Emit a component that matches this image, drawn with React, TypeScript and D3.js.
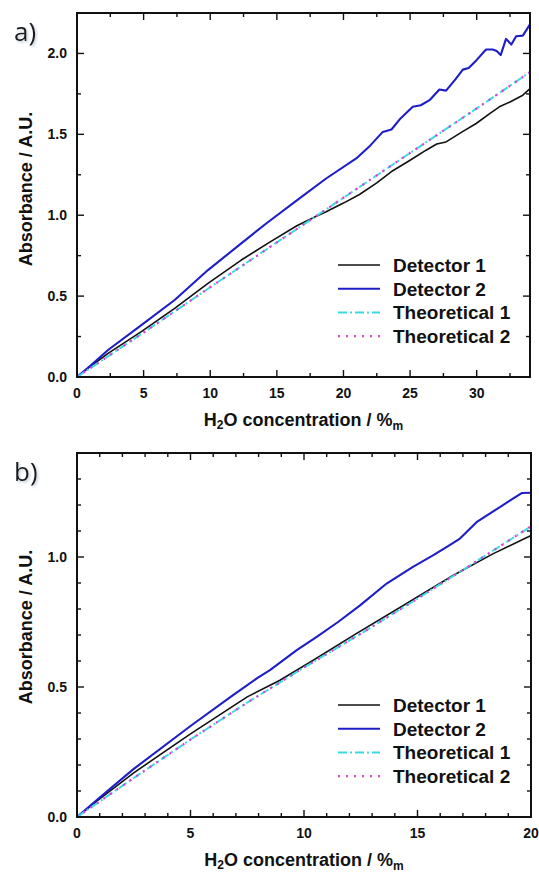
import React from "react";
import * as d3 from "d3";

// ---------- Data ----------
// Panel a
const a_detector1: [number, number][] = [
  [0, 0], [1, 0.065], [2.33, 0.146], [4.83, 0.28], [7.33, 0.424], [9.83, 0.579],
  [12.33, 0.723], [14.5, 0.835], [16.5, 0.935], [18.0, 0.995], [18.7, 1.021],
  [20, 1.075], [21.2, 1.128], [22.5, 1.2], [23.7, 1.275], [25, 1.34], [26.2, 1.402],
  [27.0, 1.44], [27.7, 1.453], [29, 1.52], [29.96, 1.567], [31, 1.63], [31.7, 1.67],
  [32.5, 1.7], [33.46, 1.742], [34, 1.783],
];
const a_detector2: [number, number][] = [
  [0, 0], [1, 0.07], [2.33, 0.167], [4.83, 0.321], [7.33, 0.476], [9.83, 0.661],
  [12.33, 0.826], [14.2, 0.949], [16.7, 1.104], [18.7, 1.227], [20.96, 1.351],
  [22.0, 1.43], [22.95, 1.515], [23.6, 1.53], [24.3, 1.6], [25.2, 1.67], [25.8, 1.68],
  [26.46, 1.711], [27.2, 1.777], [27.7, 1.77], [28.4, 1.84], [28.96, 1.9], [29.4, 1.91],
  [30.0, 1.96], [30.7, 2.024], [31.2, 2.024], [31.5, 2.015], [31.8, 1.99], [32.2, 2.09],
  [32.6, 2.055], [32.96, 2.106], [33.46, 2.11], [34, 2.18],
];
const a_theoretical1: [number, number][] = [
  [0, 0], [5, 0.275], [10, 0.555], [15, 0.832], [20, 1.108], [25, 1.385], [30, 1.66], [34, 1.885],
];
const a_theoretical2: [number, number][] = a_theoretical1.map(([x, y]) => [x, y]);

// Panel b
const b_detector1: [number, number][] = [
  [0, 0], [1, 0.07], [2.5, 0.17], [5, 0.32], [7.5, 0.462], [8.94, 0.526], [10.41, 0.603],
  [12.32, 0.706], [14.52, 0.821], [16.58, 0.93], [18.34, 1.013], [20, 1.083],
];
const b_detector2: [number, number][] = [
  [0, 0], [1, 0.075], [2.5, 0.185], [5, 0.35], [6.89, 0.47], [7.92, 0.533], [8.5, 0.565],
  [9.68, 0.642], [10.56, 0.693], [11.5, 0.75], [12.47, 0.814], [13.64, 0.898],
  [14.8, 0.962], [15.7, 1.007], [16.4, 1.045], [16.87, 1.071], [17.6, 1.134],
  [18.63, 1.192], [19.59, 1.246], [20, 1.247],
];
const b_theoretical1: [number, number][] = [
  [0, 0], [2.5, 0.15], [5, 0.298], [7.5, 0.44], [10, 0.575], [12.5, 0.705], [15, 0.84],
  [17.5, 0.978], [20, 1.118],
];
const b_theoretical2: [number, number][] = b_theoretical1.map(([x, y]) => [x, y]);

const seriesNames = ["Detector 1", "Detector 2", "Theoretical 1", "Theoretical 2"];

const a_xTicks = [0, 5, 10, 15, 20, 25, 30];
const a_yTicks = [0, 0.5, 1.0, 1.5, 2.0];
const b_xTicks = [0, 5, 10, 15, 20];
const b_yTicks = [0, 0.5, 1.0];

// ---------- Styles ----------
const styles = [
  { color: "#111111", width: 1.6, dash: undefined as string | undefined },
  { color: "#1e1ec8", width: 2.1, dash: undefined as string | undefined },
  { color: "#3dd9e2", width: 2.0, dash: "9,3,2,3" },
  { color: "#dc3fdc", width: 2.2, dash: "2,6" },
];

const FONT = "'Liberation Sans', Arial, sans-serif";

type PanelProps = {
  label: string;
  left: number;
  right: number;
  top: number;
  bottom: number;
  xDomain: [number, number];
  yDomain: [number, number];
  xTicks: number[];
  yTicks: number[];
  xMinorStep: number;
  yMinorStep: number;
  series: [number, number][][];
  labelY: number;
  titleCenterOffset: number;
};

function Panel(p: PanelProps) {
  const x = d3.scaleLinear().domain(p.xDomain).range([p.left, p.right]);
  const y = d3.scaleLinear().domain(p.yDomain).range([p.bottom, p.top]);
  const line = d3
    .line<[number, number]>()
    .x((d) => x(d[0]))
    .y((d) => y(d[1]));
  const xMinor = d3.range(p.xDomain[0], p.xDomain[1] + 1e-9, p.xMinorStep);
  const yMinor = d3.range(p.yDomain[0], p.yDomain[1] + 1e-9, p.yMinorStep);
  const isMajorX = (v: number) => p.xTicks.some((t) => Math.abs(t - v) < 1e-6);
  const isMajorY = (v: number) => p.yTicks.some((t) => Math.abs(t - v) < 1e-6);
  const fmt = d3.format(".1f");
  const MAJ = 7;
  const MIN = 4;
  const legendX0 = 338;
  const legendX1 = 380;
  const legendTextX = 393;
  const legendY0 = p.bottom - 112;
  const legendDY = 23.7;
  const midX = (p.left + p.right) / 2;
  const midY = (p.top + p.bottom) / 2 + p.titleCenterOffset;

  return (
    <g>
      <defs>
        <clipPath id={`clip-${p.label}`}>
          <rect x={p.left} y={p.top} width={p.right - p.left} height={p.bottom - p.top} />
        </clipPath>
      </defs>
      {/* data */}
      <g clipPath={`url(#clip-${p.label})`}>
        {p.series.map((s, i) => (
          <path
            key={i}
            d={line(s) || ""}
            fill="none"
            stroke={styles[i].color}
            strokeWidth={styles[i].width}
            strokeDasharray={styles[i].dash}
            strokeLinejoin="round"
          />
        ))}
      </g>
      {/* ticks */}
      <g stroke="#111" strokeWidth={1.4}>
        {xMinor.map((v, i) => {
          const len = isMajorX(v) ? MAJ : MIN;
          const xx = x(v);
          return (
            <g key={"xt" + i}>
              <line x1={xx} x2={xx} y1={p.bottom} y2={p.bottom - len} />
              <line x1={xx} x2={xx} y1={p.top} y2={p.top + len} />
            </g>
          );
        })}
        {yMinor.map((v, i) => {
          const len = isMajorY(v) ? MAJ : MIN;
          const yy = y(v);
          return (
            <g key={"yt" + i}>
              <line x1={p.left} x2={p.left + len} y1={yy} y2={yy} />
              <line x1={p.right} x2={p.right - len} y1={yy} y2={yy} />
            </g>
          );
        })}
      </g>
      {/* frame */}
      <rect
        x={p.left}
        y={p.top}
        width={p.right - p.left}
        height={p.bottom - p.top}
        fill="none"
        stroke="#111"
        strokeWidth={2}
      />
      {/* tick labels */}
      <g fontFamily={FONT} fontWeight="bold" fontSize={14} fill="#111">
        {p.xTicks.map((t) => (
          <text key={"xl" + t} x={x(t)} y={p.bottom + 21} textAnchor="middle">
            {String(t)}
          </text>
        ))}
        {p.yTicks.map((t) => (
          <text key={"yl" + t} x={p.left - 10} y={y(t)} dy="0.36em" textAnchor="end">
            {fmt(t)}
          </text>
        ))}
      </g>
      {/* axis titles */}
      <text
        x={midX}
        y={p.bottom + 49}
        textAnchor="middle"
        fontFamily={FONT}
        fontWeight="bold"
        fontSize={18}
        fill="#111"
      >
        H
        <tspan fontSize={12} dy={3}>2</tspan>
        <tspan dy={-3}>O concentration / %</tspan>
        <tspan fontSize={12} dy={3.5}>m</tspan>
      </text>
      <text
        transform={`translate(32,${midY}) rotate(-90)`}
        textAnchor="middle"
        fontFamily={FONT}
        fontWeight="bold"
        fontSize={18}
        fill="#111"
      >
        Absorbance / A.U.
      </text>
      {/* legend */}
      <g>
        {seriesNames.map((n, i) => {
          const yy = legendY0 + i * legendDY;
          return (
            <g key={n}>
              <line
                x1={legendX0}
                x2={legendX1}
                y1={yy}
                y2={yy}
                stroke={styles[i].color}
                strokeWidth={styles[i].width}
                strokeDasharray={styles[i].dash}
              />
              <text
                x={legendTextX}
                y={yy}
                dy="0.36em"
                fontFamily={FONT}
                fontWeight="bold"
                fontSize={19}
                fill="#111"
              >
                {n}
              </text>
            </g>
          );
        })}
      </g>
      {/* panel label */}
      <text
        x={14}
        y={p.labelY}
        fontFamily="'Open Sans', 'Noto Sans', sans-serif"
        fontSize={26}
        fill="#1a1a1a"
        filter="url(#lblShadow)"
      >
        {p.label}
      </text>
    </g>
  );
}

export default function App() {
  return (
    <svg
      width={539}
      height={872}
      viewBox="0 0 539 872"
      style={{ position: "absolute", left: 0, top: 0, display: "block", background: "#fff" }}
    >
      <defs>
        <filter id="lblShadow" x="-30%" y="-30%" width="160%" height="160%">
          <feDropShadow dx="1.5" dy="1.5" stdDeviation="1.2" floodColor="#8899aa" floodOpacity="0.5" />
        </filter>
      </defs>
      <rect x={0} y={0} width={539} height={872} fill="#fff" />
      <Panel
        label="a)"
        left={77}
        right={530}
        top={13}
        bottom={377}
        xDomain={[0, 34]}
        yDomain={[0, 2.25]}
        xTicks={a_xTicks}
        yTicks={a_yTicks}
        xMinorStep={2.5}
        yMinorStep={0.25}
        series={[a_detector1, a_detector2, a_theoretical1, a_theoretical2]}
        labelY={41}
        titleCenterOffset={-6}
      />
      <Panel
        label="b)"
        left={77}
        right={531}
        top={453}
        bottom={817}
        xDomain={[0, 20]}
        yDomain={[0, 1.4]}
        xTicks={b_xTicks}
        yTicks={b_yTicks}
        xMinorStep={1}
        yMinorStep={0.1}
        series={[b_detector1, b_detector2, b_theoretical1, b_theoretical2]}
        labelY={481}
        titleCenterOffset={-8}
      />
    </svg>
  );
}
